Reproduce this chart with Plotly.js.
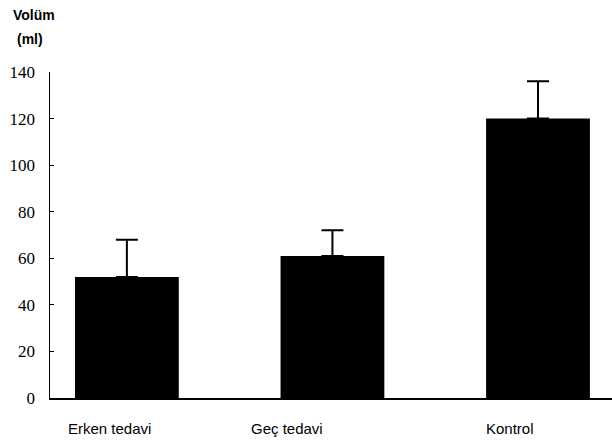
<!DOCTYPE html>
<html>
<head>
<meta charset="utf-8">
<script src="https://cdn.plot.ly/plotly-3.0.1.min.js"></script>
<style>html,body{margin:0;padding:0;background:#fff;}#chart{width:612px;height:448px;}</style>
</head>
<body>
<div id="chart"></div>
<script>
var categories = ["Erken tedavi", "Geç tedavi", "Kontrol"];
var means = [52, 61, 120];
var errors = [16, 11, 16];
var yTicks = [0, 20, 40, 60, 80, 100, 120, 140];
var labelShifts = [-17, -45, -28];

var trace = {
  type: "bar",
  x: categories,
  y: means,
  width: 0.505,
  marker: {color: "#000000", line: {width: 0}},
  error_y: {type: "data", symmetric: false, array: errors, arrayminus: [0,0,0],
            color: "#000000", thickness: 2, width: 11}
};

var sans = "Liberation Sans";
var serif = "Liberation Serif";
var annotations = [
  {text: "<b>Volüm</b>", xref: "paper", yref: "paper", x: -0.0694, y: 1.0, yshift: 57,
   xanchor: "left", yanchor: "middle", showarrow: false,
   font: {family: sans, size: 14, color: "#000"}},
  {text: "<b>(ml)</b>", xref: "paper", yref: "paper", x: -0.0623, y: 1.0, yshift: 33,
   xanchor: "left", yanchor: "middle", showarrow: false,
   font: {family: sans, size: 14, color: "#000"}}
];
categories.forEach(function (c, i) {
  annotations.push({text: c, xref: "x", yref: "paper", x: c, y: 0, yshift: -30,
    xshift: labelShifts[i], xanchor: "center", yanchor: "middle", showarrow: false,
    font: {family: sans, size: 15, color: "#000"}});
});

var layout = {
  width: 612, height: 448,
  margin: {l: 50, r: 0, t: 72, b: 50, pad: 0},
  paper_bgcolor: "#ffffff", plot_bgcolor: "#ffffff",
  showlegend: false,
  xaxis: {
    type: "category",
    range: [-0.374, 2.36],
    showline: true, linecolor: "#000", linewidth: 1.5,
    ticks: "", showgrid: false, zeroline: false, showticklabels: false
  },
  yaxis: {
    range: [0, 140],
    tickmode: "array",
    tickvals: yTicks,
    ticktext: yTicks.map(String),
    showline: true, linecolor: "#000", linewidth: 1.5,
    ticks: "inside", ticklen: 4, tickcolor: "#000",
    showgrid: false, zeroline: false,
    tickfont: {family: serif, size: 17, color: "#000"},
    ticklabelstandoff: 10
  },
  annotations: annotations
};

Plotly.newPlot("chart", [trace], layout, {displayModeBar: false, staticPlot: true});
</script>
</body>
</html>
